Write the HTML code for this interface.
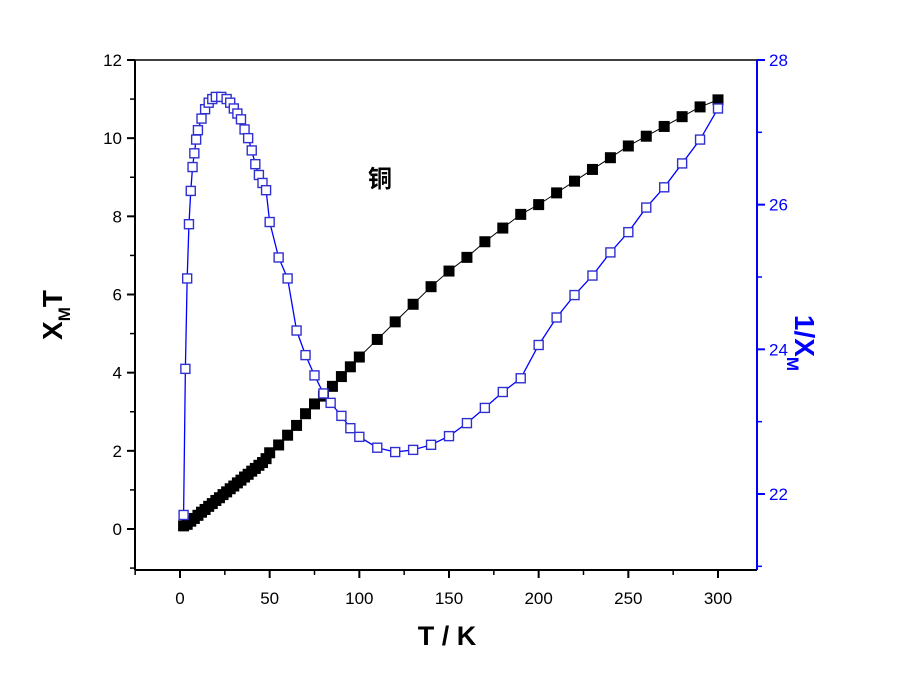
<!DOCTYPE html>
<html><head><meta charset="utf-8"><style>
html,body{margin:0;padding:0;background:#fff;}
svg{display:block;font-family:"Liberation Sans",Arial,sans-serif;}
</style></head><body>
<svg id="chart" width="900" height="695" viewBox="0 0 900 695" xmlns="http://www.w3.org/2000/svg">
<rect x="0" y="0" width="900" height="695" fill="#fff"/>
<g id="axes"></g>
<g id="series"></g>
<text x="380" y="187" font-size="24" font-weight="bold" text-anchor="middle" font-family="'Liberation Sans','Noto Sans CJK SC',sans-serif">铜</text>
<text x="447" y="645" font-size="27" font-weight="bold" text-anchor="middle">T / K</text>
<text transform="translate(62,315) rotate(-90)" font-size="28" font-weight="bold" text-anchor="middle">X<tspan font-size="17" dy="8">M</tspan><tspan dy="-8">T</tspan></text>
<text transform="translate(795,343) rotate(90)" font-size="28" font-weight="bold" fill="#0000ff" text-anchor="middle">1/X<tspan font-size="17" dy="8">M</tspan></text>
</svg>
<script>
const tBlack=[2,4,6,8,10,12,14,16,18,20,22,24,26,28,30,32,34,36,38,40,42,44,46,48,50,55,60,65,70,75,80,85,90,95,100,110,120,130,140,150,160,170,180,190,200,210,220,230,240,250,260,270,280,290,300];
const xtValues=[0.08,0.12,0.2,0.27,0.35,0.43,0.5,0.58,0.65,0.73,0.8,0.88,0.95,1.03,1.1,1.18,1.25,1.33,1.4,1.48,1.55,1.63,1.7,1.8,1.95,2.15,2.4,2.65,2.95,3.2,3.4,3.65,3.9,4.15,4.4,4.85,5.3,5.75,6.2,6.6,6.95,7.35,7.7,8.05,8.3,8.6,8.9,9.2,9.5,9.8,10.05,10.3,10.55,10.8,10.98];
const tBlue=[2,3,4,5,6,7,8,9,10,12,14,16,18,20,23,26,28,30,32,34,36,38,40,42,44,46,48,50,55,60,65,70,75,80,84,90,95,100,110,120,130,140,150,160,170,180,190,200,210,220,230,240,250,260,270,280,290,300];
const invChiValues=[21.71,23.73,24.98,25.73,26.19,26.52,26.71,26.9,27.03,27.19,27.32,27.41,27.46,27.49,27.49,27.46,27.41,27.33,27.26,27.18,27.04,26.92,26.75,26.56,26.41,26.3,26.2,25.76,25.27,24.98,24.26,23.92,23.64,23.39,23.26,23.08,22.91,22.79,22.64,22.58,22.61,22.68,22.8,22.98,23.19,23.41,23.6,24.06,24.44,24.75,25.02,25.34,25.62,25.96,26.24,26.57,26.9,27.33];
const xTicks=[0,50,100,150,200,250,300];
const xMinor=[-25,25,75,125,175,225,275];
const yLeftTicks=[0,2,4,6,8,10,12];
const yLeftMinor=[-1,1,3,5,7,9,11];
const yRightTicks=[22,24,26,28];
const yRightMinor=[21,23,25,27];

const L=135,R=757,T=60,B=570;
const x=v=>180+(v-0)*(718-180)/300;
const yl=v=>529-v*(529-60)/12;
const yr=v=>494-(v-22)*(494-60)/6;
const NS="http://www.w3.org/2000/svg";
function mk(tag,attrs,parent){const e=document.createElementNS(NS,tag);for(const k in attrs)e.setAttribute(k,attrs[k]);parent.appendChild(e);return e;}
const ax=document.getElementById('axes'),se=document.getElementById('series');

let e;
e=mk('line',{x1:L,y1:T,x2:L,y2:B,stroke:'#000','stroke-width':2},ax);


e=mk('line',{x1:L,y1:B,x2:R,y2:B,stroke:'#000','stroke-width':2},ax);


e=mk('line',{x1:L,y1:T,x2:R,y2:T,stroke:'#000','stroke-width':1.5},ax);


e=mk('line',{x1:R,y1:T,x2:R,y2:B,stroke:'#0000ff','stroke-width':2},ax);



xTicks.forEach(v=>{
 e=mk('line',{x1:x(v),y1:B,x2:x(v),y2:B+8,stroke:'#000','stroke-width':2},ax);
 
 
 e=mk('text',{x:x(v),y:604,'font-size':17,'text-anchor':'middle'},ax);e.textContent=v;
 
 
});
xMinor.forEach(v=>{
 e=mk('line',{x1:x(v),y1:B,x2:x(v),y2:B+5,stroke:'#000','stroke-width':1.5},ax);
 
 
});
yLeftTicks.forEach(v=>{
 e=mk('line',{x1:L-8,y1:yl(v),x2:L,y2:yl(v),stroke:'#000','stroke-width':2},ax);
 
 
 e=mk('text',{x:L-13,y:yl(v)+6,'font-size':17,'text-anchor':'end'},ax);e.textContent=v;
 
 
});
yLeftMinor.forEach(v=>{
 e=mk('line',{x1:L-5,y1:yl(v),x2:L,y2:yl(v),stroke:'#000','stroke-width':1.5},ax);
 
 
});
yRightTicks.forEach(v=>{
 e=mk('line',{x1:R,y1:yr(v),x2:R+8,y2:yr(v),stroke:'#0000ff','stroke-width':2},ax);
 
 
 e=mk('text',{x:R+12,y:yr(v)+6,'font-size':17,fill:'#0000ff'},ax);e.textContent=v;
 
 
});
yRightMinor.forEach(v=>{
 e=mk('line',{x1:R,y1:yr(v),x2:R+5,y2:yr(v),stroke:'#0000ff','stroke-width':1.5},ax);
 
 
});

// black series
e=mk('polyline',{points:tBlack.map((t,i)=>x(t)+','+yl(xtValues[i])).join(' '),fill:'none',stroke:'#000','stroke-width':1},se);


tBlack.forEach((t,i)=>{
 e=mk('rect',{x:x(t)-5.5,y:yl(xtValues[i])-5.5,width:11,height:11,fill:'#000'},se);
 
 
});
// blue series
e=mk('polyline',{points:tBlue.map((t,i)=>x(t)+','+yr(invChiValues[i])).join(' '),fill:'none',stroke:'#0000ff','stroke-width':1.3},se);


tBlue.forEach((t,i)=>{
 e=mk('rect',{x:x(t)-4.5,y:yr(invChiValues[i])-4.5,width:9,height:9,fill:'#fff',stroke:'#3030d0','stroke-width':1.4},se);
 
 
});
</script>
</body></html>
